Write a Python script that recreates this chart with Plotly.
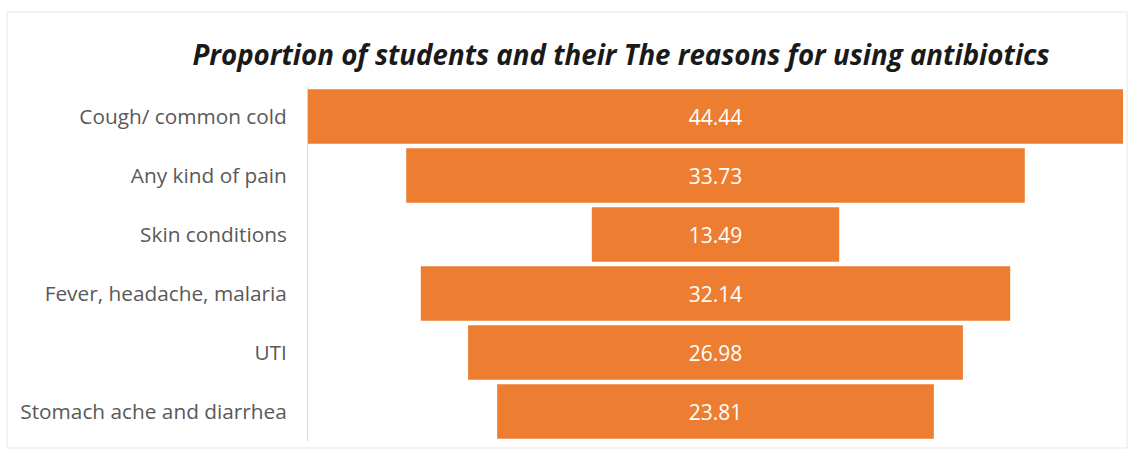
import plotly.graph_objects as go

# Reasons for antibiotic use and share of students (%)
reasons = [
    "Cough/ common cold",
    "Any kind of pain",
    "Skin conditions",
    "Fever, headache, malaria",
    "UTI",
    "Stomach ache and diarrhea",
]
shares = [44.44, 33.73, 13.49, 32.14, 26.98, 23.81]

W, H = 1128, 453
ML, MR, MT, MB = 308, 5, 87, 12
pw, ph = W - ML - MR, H - MT - MB

fig = go.Figure(
    go.Funnel(
        y=reasons,
        x=shares,
        orientation="h",
        marker=dict(color="#ED7D31"),
        connector=dict(visible=False),
        texttemplate="%{x:.2f}",
        textposition="inside",
        insidetextanchor="middle",
        textfont=dict(color="white", size=21, family="Open Sans"),
        hoverinfo="y+x",
    )
)

half = max(shares) / 2


def px_x(p):
    return (p - ML) / pw


def px_y(p):
    return (H - MB - p) / ph


fig.update_layout(
    width=W,
    height=H,
    margin=dict(l=ML, r=MR, t=MT, b=MB),
    paper_bgcolor="white",
    plot_bgcolor="white",
    funnelgap=0.08,
    showlegend=False,
    uniformtext=dict(minsize=8, mode="show"),
    title=dict(
        text="<b><i>Proportion of students and their The reasons for using antibiotics</i></b>",
        x=621 / W,
        xanchor="center",
        y=1 - 55 / H,
        yanchor="middle",
        font=dict(family="Open Sans", size=27.7, color="#1a1a1a"),
    ),
    xaxis=dict(visible=False, range=[-half, half], fixedrange=True),
    yaxis=dict(
        showline=True,
        linecolor="#d9d9d9",
        linewidth=1,
        ticks="",
        ticklabelstandoff=16,
        tickfont=dict(family="Open Sans", size=20.8, color="#595959"),
        showgrid=False,
    ),
    shapes=[
        dict(
            type="rect",
            xref="paper",
            yref="paper",
            x0=px_x(7),
            x1=px_x(1127),
            y0=px_y(448),
            y1=px_y(12),
            line=dict(color="#e6e6e6", width=1),
            fillcolor="rgba(0,0,0,0)",
            layer="below",
        )
    ],
)

fig.write_html("out.html")
